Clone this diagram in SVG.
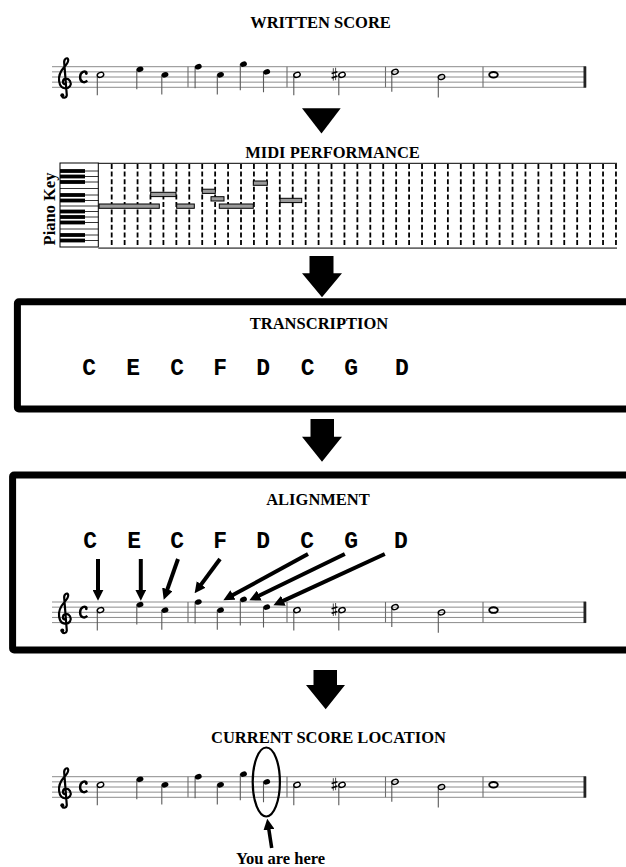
<svg xmlns="http://www.w3.org/2000/svg" xmlns:xlink="http://www.w3.org/1999/xlink" width="626" height="867" viewBox="0 0 626 867">
<style>
.title{font-family:"Liberation Serif","Times New Roman",serif;font-weight:bold;font-size:16.5px;text-anchor:middle;fill:#000}
.mono{font-family:"Liberation Mono","Courier New",monospace;font-weight:bold;font-size:23px;text-anchor:middle;fill:#000}
.sl{stroke:#8c8c8c;stroke-width:1;fill:none}
.bar{stroke:#6e6e6e;stroke-width:1.1}
.stem{stroke:#5a5a5a;stroke-width:1.1}
.box{fill:none;stroke:#000;stroke-width:7;stroke-linejoin:round}
.blk{fill:#000}
.al{stroke:#000;stroke-width:4;fill:none;marker-end:url(#ah)}
.key{fill:#000}
.kl{stroke:#000;stroke-width:0.8}
.nb{fill:#9a9a9a;stroke:#000;stroke-width:1}
.grid{stroke:#000;stroke-width:1.8;stroke-dasharray:5 2.6;fill:none}
</style>
<defs>
<marker id="ah" markerUnits="userSpaceOnUse" markerWidth="11" markerHeight="11" viewBox="0 0 10 10" refX="3" refY="5" orient="auto"><path d="M0,0 L10,5 L0,10 z" fill="#000"/></marker>
<ellipse id="hq" rx="3.5" ry="2.6" transform="rotate(-20)" fill="#000"/>
<ellipse id="hh" rx="3.3" ry="2.4" transform="rotate(-20)" fill="none" stroke="#000" stroke-width="1.4"/>
<g id="score">
<path class="sl" d="M52 0H586M52 5.15H586M52 10.3H586M52 15.45H586M52 20.6H586"/>
<path d="M62 29.5C63 31.8 66.5 31.5 66.8 28.5L64.2 -4C63.8 -8 67.5 -10 68.2 -7C68.8 -3.5 64 0 61.5 4C58.5 9 58.5 14 60 18C61.5 22 67.5 23 70 19.5C72 16 69.5 11.5 65.5 12C62.5 12.5 62 16.5 64.5 17.5" fill="none" stroke="#000" stroke-width="2.2" stroke-linecap="round"/>
<circle cx="62.3" cy="28.6" r="2" fill="#000"/>
<path d="M86.8 6.2C85.4 3.8 80.3 4.2 80.1 10.3C79.9 15.6 84.8 16.8 87.2 13.8" fill="none" stroke="#000" stroke-width="2.4"/>
<circle cx="86.3" cy="6.8" r="1.4" fill="#000"/>
<path class="bar" d="M188 0V20.6M287 0V20.6M385.5 0V20.6M483 0V20.6"/>
<rect x="583.5" y="-0.3" width="2.8" height="21.2" fill="#222"/>
<path class="stem" d="M97.3 8.1V28.5M136.8 2.6V22.6M161.8 8.1V27.8M195.1 0V21.5M217.3 8.1V27.8M240.3 -2.6V23.5M263.5 5.15V25.5M293.8 8.1V28.5M338.8 8.1V28.5M391.8 5.15V25M438.3 10.3V30.8"/>
<use xlink:href="#hh" x="100.5" y="8.1"/>
<use xlink:href="#hq" x="140" y="2.6"/>
<use xlink:href="#hq" x="165" y="8.1"/>
<use xlink:href="#hq" x="198.3" y="0"/>
<use xlink:href="#hq" x="220.5" y="8.1"/>
<use xlink:href="#hq" x="243.5" y="-2.6"/>
<use xlink:href="#hq" x="266.7" y="5.15"/>
<use xlink:href="#hh" x="297" y="8.1"/>
<path d="M333.3 1.5V14M335.6 1V13.5" stroke="#333" stroke-width="0.9"/>
<path d="M331.6 6.8L337.4 5M331.6 11.2L337.4 9.4" stroke="#000" stroke-width="1.6"/>
<use xlink:href="#hh" x="342" y="8.1"/>
<use xlink:href="#hh" x="395" y="5.15"/>
<use xlink:href="#hh" x="441.5" y="10.3"/>
<ellipse cx="493.5" cy="8.1" rx="4.3" ry="2.8" fill="none" stroke="#000" stroke-width="1.9"/>
</g>
</defs>
<rect width="626" height="867" fill="#fff"/>

<g id="written-score">
<text class="title" x="320.5" y="28">WRITTEN SCORE</text>
<use xlink:href="#score" transform="translate(0,66.7)"/>
</g>

<g id="midi-performance">
<text class="title" x="332.5" y="158">MIDI PERFORMANCE</text>
<text class="title" transform="translate(54.5,209) rotate(-90)">Piano Key</text>
<rect x="60" y="163" width="38.3" height="84" fill="#fff" stroke="#000" stroke-width="1"/>
<path class="kl" d="M60 171H98.3M60 176.5H98.3M60 182H98.3M60 188.5H98.3M60 195H98.3M60 200.5H98.3M60 206H98.3M60 211.5H98.3M60 217H98.3M60 222.5H98.3M60 229H98.3M60 235H98.3M60 240.5H98.3"/>
<g class="key">
<rect x="60" y="169.1" width="25" height="3.8"/>
<rect x="60" y="174.6" width="25" height="3.8"/>
<rect x="60" y="180.1" width="25" height="3.8"/>
<rect x="60" y="193.1" width="25" height="3.8"/>
<rect x="60" y="198.6" width="25" height="3.8"/>
<rect x="60" y="209.6" width="25" height="3.8"/>
<rect x="60" y="215.1" width="25" height="3.8"/>
<rect x="60" y="220.6" width="25" height="3.8"/>
<rect x="60" y="233.1" width="25" height="3.8"/>
<rect x="60" y="238.6" width="25" height="3.8"/>
</g>
<path d="M98.3 163.3H617" stroke="#000" stroke-width="1"/>
<path class="grid" d="M111.7 164V247M124.63 164V247M137.56 164V247M150.49 164V247M163.42 164V247M176.35 164V247M189.28 164V247M202.21 164V247M215.14 164V247M228.07 164V247M241 164V247M253.93 164V247M266.86 164V247M279.79 164V247M292.72 164V247M305.65 164V247M318.58 164V247M331.51 164V247M344.44 164V247M357.37 164V247M370.3 164V247M383.23 164V247M396.16 164V247M409.09 164V247M422.02 164V247M434.95 164V247M447.88 164V247M460.81 164V247M473.74 164V247M486.67 164V247M499.6 164V247M512.53 164V247M525.46 164V247M538.39 164V247M551.32 164V247M564.25 164V247M577.18 164V247M590.11 164V247M603.04 164V247M615.97 164V247"/>
<path d="M98.3 248.2H617" stroke="#6a6a6a" stroke-width="1.8"/>
<rect class="nb" x="99" y="204" width="60.3" height="4.3"/>
<rect class="nb" x="150.7" y="192.3" width="25.3" height="4.3"/>
<rect class="nb" x="176.7" y="204" width="17.6" height="4.3"/>
<rect class="nb" x="202.3" y="189.2" width="13" height="4.2"/>
<rect class="nb" x="211" y="196.7" width="13" height="4.3"/>
<rect class="nb" x="219.3" y="204" width="34" height="4.3"/>
<rect class="nb" x="253.3" y="181" width="14" height="4.3"/>
<rect class="nb" x="280" y="198.3" width="21.7" height="4.3"/>
</g>

<g id="transcription">
<rect class="box" x="17.4" y="301.7" width="640" height="107.3" rx="1.5"/>
<text class="title" x="319" y="329.3">TRANSCRIPTION</text>
<text class="mono" y="375"><tspan x="96">C</tspan> <tspan x="140">E</tspan> <tspan x="184">C</tspan> <tspan x="227">F</tspan> <tspan x="270">D</tspan> <tspan x="314.5">C</tspan> <tspan x="358">G</tspan> <tspan x="402">D</tspan></text>
</g>

<g id="alignment">
<rect class="box" x="12.6" y="475" width="640" height="175" rx="1.5"/>
<text class="title" x="318" y="505">ALIGNMENT</text>
<text class="mono" y="548.3"><tspan x="97">C</tspan> <tspan x="141">E</tspan> <tspan x="184">C</tspan> <tspan x="227">F</tspan> <tspan x="270">D</tspan> <tspan x="314">C</tspan> <tspan x="358">G</tspan> <tspan x="401">D</tspan></text>
<use xlink:href="#score" transform="translate(0,602)"/>
</g>

<g id="current-score-location">
<text class="title" x="328.5" y="743">CURRENT SCORE LOCATION</text>
<use xlink:href="#score" transform="translate(0,776.7)"/>
<ellipse cx="266.3" cy="782" rx="13.6" ry="34.5" fill="none" stroke="#000" stroke-width="2.2"/>
<text class="title" x="280.5" y="864">You are here</text>
</g>

<g id="connectors">
<polygon class="blk" points="302,108.3 340.7,108.3 321.5,133.5"/>
<polygon class="blk" points="309.5,256 333.5,256 333.5,273.3 342,273.3 322,297.3 302,273.3 309.5,273.3"/>
<polygon class="blk" points="310.5,419 334,419 334,436.7 342,436.7 322,461.7 302,436.7 310.5,436.7"/>
<polygon class="blk" points="313.5,670 337,670 337,685 345,685 325.7,709.3 306,685 313.5,685"/>
<path class="al" d="M98 559V593"/>
<path class="al" d="M140.8 559V593"/>
<path class="al" d="M178 559L166.3 592.4"/>
<path class="al" d="M220 559L199.2 587.1"/>
<path class="al" d="M308 554L230.1 596.6"/>
<path class="al" d="M344.8 554L256.3 597"/>
<path class="al" d="M384.8 554L280.4 602.1"/>
<path d="M271.7 848L268.4 826.4" stroke="#000" stroke-width="3.5" fill="none" marker-end="url(#ah)"/>
</g>
</svg>
